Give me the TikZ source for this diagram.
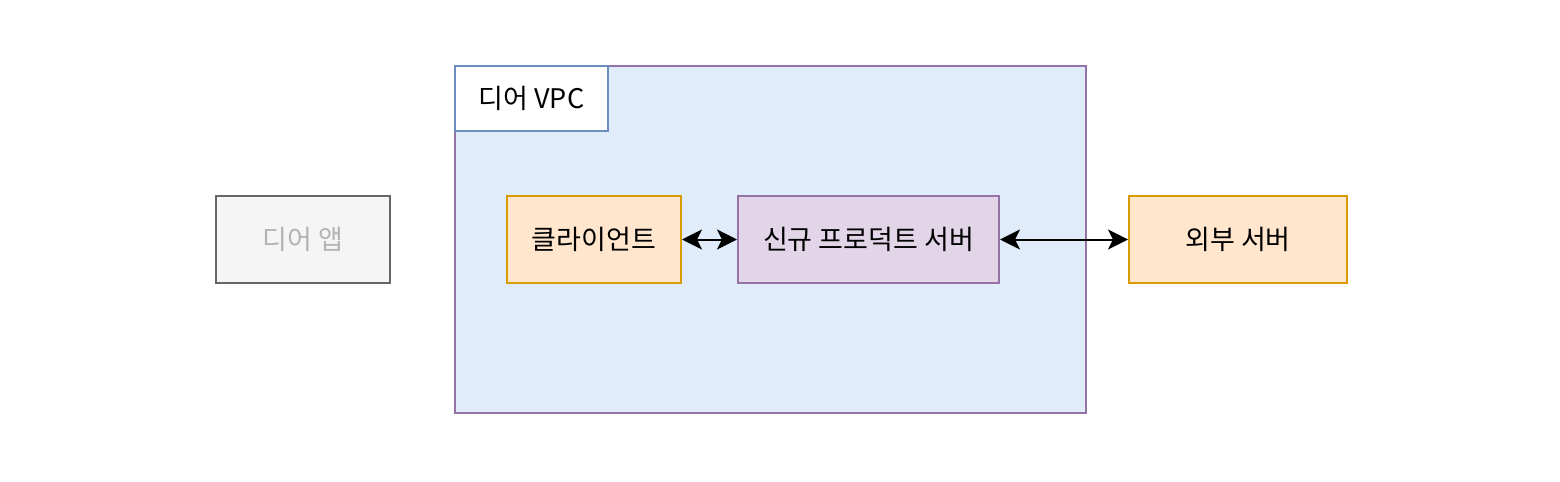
\documentclass[tikz,border=0pt]{standalone}
\usepackage{fontspec}
\setmainfont{Noto Sans CJK KR}
\usetikzlibrary{arrows.meta}
\definecolor{appfill}{HTML}{F5F5F5}
\definecolor{appline}{HTML}{666666}
\definecolor{apptext}{HTML}{B3B3B3}
\definecolor{vpcfill}{HTML}{E1ECFB}
\definecolor{vpcline}{HTML}{9673A6}
\definecolor{tagline}{HTML}{6C8EBF}
\definecolor{orgfill}{HTML}{FFE6CC}
\definecolor{orgline}{HTML}{D79B00}
\definecolor{purfill}{HTML}{E1D5E7}
\begin{document}
\begin{tikzpicture}[x=0.5pt,y=-0.5pt,
    every node/.style={font=\fontsize{13.5}{15}\selectfont, inner sep=0pt, line width=1pt},
    box/.style={draw, rectangle, minimum height=43.5pt},
    both/.style={{Stealth[length=10pt,width=10pt,inset=2.5pt]}-{Stealth[length=10pt,width=10pt,inset=2.5pt]}, line width=1pt}]
    \useasboundingbox (0,0) rectangle (1560,482);
    % VPC area
    \node (vpc) [box, fill=vpcfill, draw=vpcline, minimum width=315.5pt, minimum height=173.5pt] at (770.5,239.5) {};
    \node (tag) [box, fill=white, draw=tagline, minimum width=76.5pt, minimum height=32.5pt] at (531.5,98.5) {디어 VPC};
    % boxes
    \node (app) [box, fill=appfill, draw=appline, text=apptext, minimum width=87pt] at (303,239.5) {디어 앱};
    \node (client) [box, fill=orgfill, draw=orgline, minimum width=87pt] at (594,239.5) {클라이언트};
    \node (server) [box, fill=purfill, draw=vpcline, minimum width=130.5pt] at (868.5,239.5) {신규 프로덕트 서버};
    \node (ext) [box, fill=orgfill, draw=orgline, minimum width=109pt] at (1238,239.5) {외부 서버};
    % links
    \draw [both] (client) -- (server);
    \draw [both] (server) -- (ext);
\end{tikzpicture}
\end{document}
